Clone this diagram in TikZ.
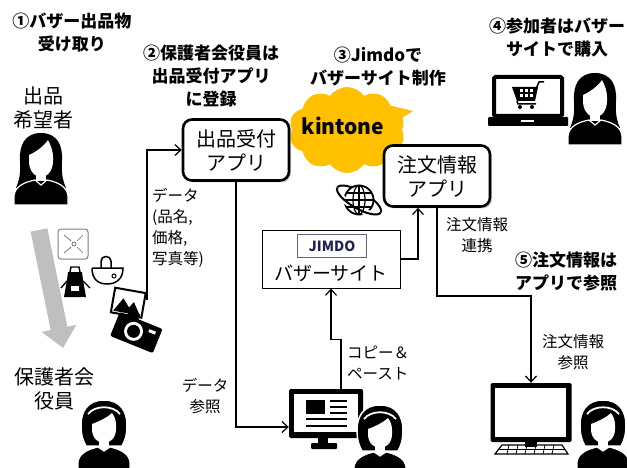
\documentclass[tikz,border=0pt]{standalone}
\usepackage{fontspec}
\setmainfont{Noto Sans CJK JP}
\usetikzlibrary{arrows.meta,shapes.symbols,shadows,positioning}
\definecolor{kintoneyellow}{HTML}{FFC000}
\definecolor{jimdonavy}{HTML}{1F2250}
\definecolor{arrowgray}{HTML}{BFBFBF}

\tikzset{
  conn/.style={line width=1.2pt, -{Straight Barb[length=6pt,width=11pt]}},
  appbox/.style={draw, line width=2.6pt, rounded corners=9pt, fill=white, align=center,
    minimum width=106pt, minimum height=61pt, inner sep=0pt, font=\fontsize{20}{24}\selectfont,
    drop shadow={opacity=.35,shadow xshift=2pt,shadow yshift=-2pt}},
  title/.style={align=center, inner sep=0pt, font=\bfseries\fontsize{17}{23}\selectfont},
  who/.style={align=center, inner sep=0pt, font=\fontsize{20}{24}\selectfont},
  lbl/.style={align=center, inner sep=0pt, font=\fontsize{15.5}{21}\selectfont},
  screen/.style={fill=black, rounded corners=1.5pt, inner sep=0pt},
  longhair/.pic={
    \fill (0,0) .. controls (-16,0) and (-22,12) .. (-21,28) .. controls (-20,40) and (-22,48) .. (-25,55)
      -- (25,55) .. controls (22,48) and (20,40) .. (21,28) .. controls (22,12) and (16,0) .. (0,0) -- cycle;
    \fill[white] (-12,22) .. controls (-5,19) and (3,13) .. (7,7) .. controls (10,13) and (12,18) .. (12,24)
      -- (12,28) .. controls (12,38) and (6,44) .. (0,44) .. controls (-6,44) and (-12,38) .. (-12,28) -- cycle;
    \fill[white] (-5,40) rectangle (5,48);
    \filldraw[draw=white, line width=1.2pt] (-27,72) -- (-27,63) .. controls (-26,53) and (-16,49) .. (-6,47)
      -- (0,52) -- (6,47) .. controls (16,49) and (26,53) .. (27,63) -- (27,72) -- cycle;
  },
  headband/.pic={
    \filldraw[draw=white, line width=1.5pt] (0,0) .. controls (-17,0) and (-23,12) .. (-23,25) .. controls (-23,35) and (-21,41) .. (-18,46)
      -- (18,46) .. controls (21,41) and (23,35) .. (23,25) .. controls (23,12) and (17,0) .. (0,0) -- cycle;
    \draw[white, line width=1.8pt] (-16,14) .. controls (-9,5) and (9,5) .. (16,14);
    \fill[white] (-12,24) .. controls (-4,21) and (4,17) .. (8,13) .. controls (11,17) and (12,21) .. (12,25)
      -- (12,29) .. controls (12,38) and (6,43) .. (0,43) .. controls (-6,43) and (-12,38) .. (-12,29) -- cycle;
    \fill[white] (-5,40) rectangle (5,48);
    \filldraw[draw=white, line width=1.2pt] (-26,70) -- (-26,62) .. controls (-25,53) and (-15,49) .. (-6,47)
      -- (0,51) -- (6,47) .. controls (15,49) and (25,53) .. (26,62) -- (26,70) -- cycle;
  }
}

\begin{document}
\begin{tikzpicture}[x=1pt,y=-1pt]
\useasboundingbox (0,0) rectangle (627,468);

% headings
\node[title] (t1) at (72,33) {①バザー出品物\\受け取り};
\node[title] (t2) at (211,76) {②保護者会役員は\\出品受付アプリ\\に登録};
\node[title] (t3) at (378,67) {③Jimdoで\\バザーサイト制作};
\node[title] (t4) at (557,38) {④参加者はバザー\\サイトで購入};
\node[title] (t5) at (566,272) {⑤注文情報は\\アプリで参照};

% people
\node[who] (applicant) at (43,108) {出品\\希望者};
\node[who] (officer) at (55,389) {保護者会\\役員};
\pic at (41,133) {longhair};
\pic at (595,73) {longhair};
\pic at (104,400) {headband};

% handing over the goods
\draw[arrowgray, line width=17pt, -{Triangle[length=20pt,width=34pt]}] (39,230) -- (63,348);
\draw[gray, line width=1pt, rounded corners=3pt] (58,229) rectangle (88,259);
\draw[gray!80!black, line width=.7pt] (64,235) -- (71,241) (77,247) -- (83,253) (83,235) -- (77,241) (71,247) -- (64,253);
\draw[gray!80!black, line width=.7pt] (74,244) circle (2);
\draw[line width=1.5pt] (92,268) -- (123,268) .. controls (123,280) and (115,284) .. (107,284) .. controls (99,284) and (92,280) .. (92,268);
\draw[line width=1.5pt] (101,268) -- (101,261) .. controls (101,255) and (111,255) .. (111,261) -- (111,268);
\draw[line width=1pt] (114,276) circle (2);
\draw[line width=1.4pt] (70,272) -- (71,267) -- (79,267) -- (80,272);
\fill (68,272) -- (82,272) -- (83,280) -- (86,297) -- (64,297) -- (67,280) -- cycle;
\fill[white] (71,286) rectangle (79,291);
\draw[line width=1.4pt] (67,281) -- (61,288) (83,281) -- (90,288);
\begin{scope}[shift={(138,331)}, rotate=-22]
  \begin{scope}[shift={(-20,-22)}, rotate=12]
    \filldraw[fill=white, line width=2pt] (-15,-13) rectangle (16,12);
    \fill (-13,10) -- (-5,-4) -- (2,4) -- (6,-2) -- (14,10) -- cycle;
  \end{scope}
  \fill[rounded corners=2pt] (-24,-11) rectangle (22,15);
  \fill (-16,-16) rectangle (-4,-10);
  \fill[white] (-4,2) circle (9.5);
  \fill (-4,2) circle (6.5);
  \fill[white] (10,-6) rectangle (17,-3);
\end{scope}
\coordinate (photo) at (147,300);

% kintone apps
\node[cloud, cloud puffs=10, cloud puff arc=110, aspect=1.4, fill=kintoneyellow, minimum width=116pt,
  minimum height=86pt, inner sep=0pt] (cloud) at (347,130) {};
\fill[kintoneyellow] (384,104) -- (413,111) -- (392,124) -- cycle;
\node[font=\bfseries\fontsize{21}{21}\selectfont, inner sep=0pt] (kintone) at (343,126) {kintone};
\node[appbox] (uketsuke) at (236,150) {出品受付\\アプリ};
\node[appbox] (chumon) at (437,176) {注文情報\\アプリ};

% globe
\begin{scope}[shift={(359,200)}, rotate=-30]
  \draw[line width=2pt] (25,0) arc[start angle=0, end angle=-180, x radius=25, y radius=8.5];
  \filldraw[fill=white, line width=1.8pt] (0,0) circle (14.5);
  \draw[line width=2pt, draw=white, double=black, double distance=2pt] (25,0) arc[start angle=0, end angle=180, x radius=25, y radius=8.5];
\end{scope}
\draw[line width=1.2pt] (359,200) ellipse [x radius=6, y radius=14.5];
\draw[line width=1.2pt] (345,200) -- (373,200) (359,186) -- (359,214) (347,193) -- (371,193) (347,207) -- (371,207);

% jimdo site
\node[draw, line width=1pt, minimum width=138pt, minimum height=58pt, inner sep=0pt, fill=white] (jimdo) at (331,259) {};
\node[draw=jimdonavy!70, line width=1.2pt, text=jimdonavy, font=\bfseries\fontsize{14}{14}\selectfont,
  minimum width=69pt, minimum height=23pt, inner sep=0pt] (jimdologo) at (332,246) {JIMDO};
\node[font=\fontsize{19}{19}\selectfont, inner sep=0pt] (bazaar) at (331,273) {バザーサイト};

% officer's desktop
\node[screen, minimum width=74pt, minimum height=49pt] (pcA) at (326,413.5) {};
\fill[white] (294,394) rectangle (358,432);
\fill (306,400) rectangle (325,414);
\draw[line width=1.6pt] (330,401) -- (347,401) (330,407) -- (347,407) (330,413) -- (347,413)
  (306,419) -- (347,419) (306,426) -- (347,426);
\fill (318,438) rectangle (328,444);
\fill[rounded corners=1pt] (311,443) rectangle (337,449);
\pic at (380,405) {headband};

% order desktop
\node[screen, minimum width=81pt, minimum height=59pt] (pcB) at (531,412.5) {};
\fill[white] (495,388) rectangle (566,437);
\fill (525,442) rectangle (537,447);
\draw[line width=1.2pt] (502,445) -- (562,445) -- (568,454) -- (495,454) -- cycle;
\draw[line width=.8pt] (499,449.5) -- (565,449.5);
\foreach \x in {509,518,527,536,545,554}
  \draw[line width=.8pt] (\x,445) -- (\x-2,454);
\pic at (603,400) {headband};

% shopping laptop
\node[draw, line width=4pt, rounded corners=1.5pt, minimum width=68pt, minimum height=39pt, inner sep=0pt] (laptop) at (528,96.5) {};
\fill[rounded corners=1pt] (488,117) rectangle (568,126);
\fill[white] (521,120.5) rectangle (534,122.5);
\fill (512,87) -- (538,87) -- (535,101) -- (517,101) -- cycle;
\foreach \x in {521,526,531}
  \foreach \y in {91,96}
    \fill[white] (\x-1.5,\y-1.5) rectangle ++(3,3);
\draw[line width=1.5pt] (536,89) -- (539,82) -- (544,82);
\draw[line width=1.5pt] (517,101) -- (518,104) -- (536,104);
\fill (520,107) circle (2) (532,107) circle (2);

% data flow
\draw[conn] (photo) |- (uketsuke.west);
\draw[conn] (uketsuke.south) |- ([yshift=-13.5pt]pcA.west);
\draw[conn] ([xshift=15pt]pcA.north) -- ++(0,-49) -| (jimdo.south);
\draw[conn] (jimdo.east) -| ([xshift=-19pt]chumon.south);
\coordinate (relay) at (531,296);
\draw[conn] (chumon.south) |- (relay) -- (pcB.north);

\node[lbl, align=left, anchor=north west] (datalbl) at (152,188) {データ\\(品名,\\価格,\\写真等)};
\node[lbl] (refer) at (205,396) {データ\\参照};
\node[lbl, align=left, anchor=west] (copy) at (347,363) {コピー＆\\ペースト};
\node[lbl] (link) at (477,235) {注文情報\\連携};
\node[lbl] (ordref) at (573,352) {注文情報\\参照};
\end{tikzpicture}
\end{document}
